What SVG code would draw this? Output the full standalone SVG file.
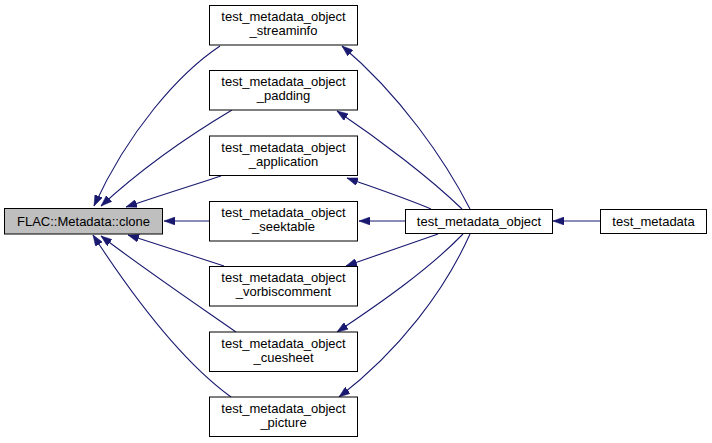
<svg xmlns="http://www.w3.org/2000/svg" width="712" height="443" viewBox="0 0 712 443">
<defs>
<marker id="ah" markerUnits="userSpaceOnUse" viewBox="0 0 11 8" refX="11" refY="4" markerWidth="11" markerHeight="8" orient="auto">
<path d="M0,0 L11,4 L0,8 Z" fill="#191970" stroke="#191970" stroke-width="0.5"/>
</marker>
<style>
.box{fill:#ffffff;stroke:#000000;stroke-width:1}
.cur{fill:#bfbfbf;stroke:#000000;stroke-width:1}
text{font-family:"Liberation Sans",Arial,Helvetica,sans-serif;font-size:13px;fill:#000000;text-anchor:middle}
.e{fill:none;stroke:#191970;stroke-width:1.1;marker-end:url(#ah)}
</style>
</defs>
<rect width="712" height="443" fill="#ffffff"/>
<g id="edges">
<path class="e" d="M220,46 C178,74 128,132 94,206"/>
<path class="e" d="M232,110 C190,135 140,170 101,206"/>
<path class="e" d="M221,176 C190,186 155,197 126,207"/>
<path class="e" d="M209,221 L164,221"/>
<path class="e" d="M224,266 C190,255 160,245 128,235"/>
<path class="e" d="M236,332 C190,300 140,266 101,236"/>
<path class="e" d="M231,397 C180,360 130,292 93,235"/>
<path class="e" d="M470,209 C445,160 400,95 342,46"/>
<path class="e" d="M462,209 C430,178 380,140 337,111"/>
<path class="e" d="M431,209 C405,198 375,188 347,178"/>
<path class="e" d="M405,221 L359,221"/>
<path class="e" d="M438,234 C410,244 378,255 346,266"/>
<path class="e" d="M463,234 C430,268 385,300 337,332"/>
<path class="e" d="M470,234 C445,290 400,350 339,397"/>
<path class="e" d="M600,221 L553,221"/>
</g>
<g id="node_clone">
<rect class="cur" x="4.5" y="208.5" width="158" height="25.5"/>
<text x="83.5" y="226">FLAC::Metadata::clone</text>
</g>
<g id="node_streaminfo">
<rect class="box" x="209.5" y="5.5" width="148" height="39.5"/>
<text x="283.5" y="21">test_metadata_object</text>
<text x="283.5" y="35">_streaminfo</text>
</g>
<g id="node_padding">
<rect class="box" x="209.5" y="70.5" width="148" height="39.5"/>
<text x="283.5" y="86">test_metadata_object</text>
<text x="283.5" y="100">_padding</text>
</g>
<g id="node_application">
<rect class="box" x="209.5" y="136" width="148" height="39.5"/>
<text x="283.5" y="151.5">test_metadata_object</text>
<text x="283.5" y="165.5">_application</text>
</g>
<g id="node_seektable">
<rect class="box" x="209.5" y="201.5" width="148" height="39.5"/>
<text x="283.5" y="217">test_metadata_object</text>
<text x="283.5" y="231">_seektable</text>
</g>
<g id="node_vorbiscomment">
<rect class="box" x="209.5" y="266.5" width="148" height="39.5"/>
<text x="283.5" y="282">test_metadata_object</text>
<text x="283.5" y="296">_vorbiscomment</text>
</g>
<g id="node_cuesheet">
<rect class="box" x="209.5" y="332" width="148" height="39.5"/>
<text x="283.5" y="347.5">test_metadata_object</text>
<text x="283.5" y="361.5">_cuesheet</text>
</g>
<g id="node_picture">
<rect class="box" x="209.5" y="397" width="148" height="39.5"/>
<text x="283.5" y="412.5">test_metadata_object</text>
<text x="283.5" y="426.5">_picture</text>
</g>
<g id="node_test_metadata_object">
<rect class="box" x="405.5" y="209.5" width="147" height="24"/>
<text x="479" y="226">test_metadata_object</text>
</g>
<g id="node_test_metadata">
<rect class="box" x="600.5" y="209.5" width="106" height="24"/>
<text x="653.5" y="226">test_metadata</text>
</g>
</svg>
